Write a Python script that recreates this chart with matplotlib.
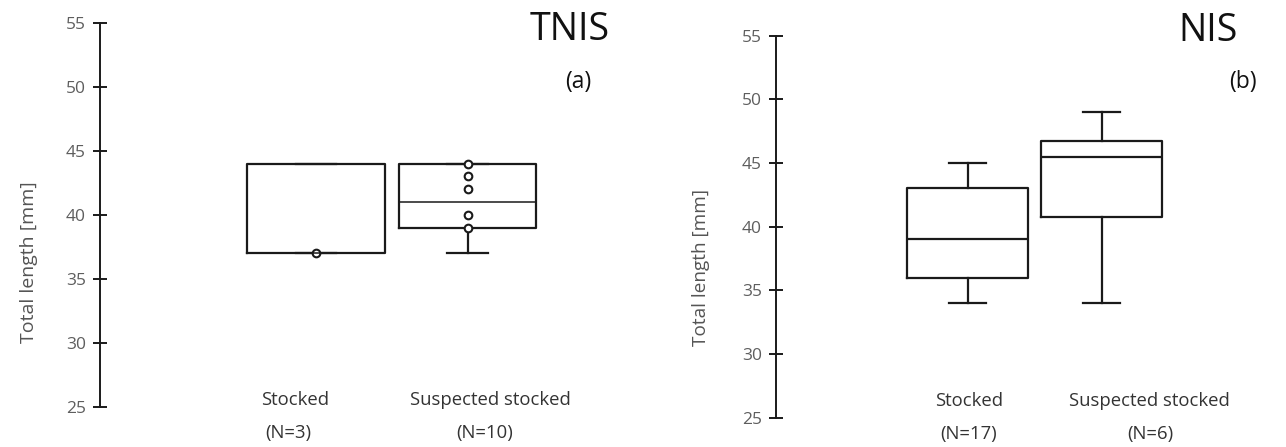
import matplotlib.pyplot as plt

plt.rcParams['font.family'] = ['Open Sans', 'DejaVu Sans']

W, H = 1286, 447

# panel (a) TNIS
groups = ['Stocked', 'Suspected stocked']
counts_a = [3, 10]
q1_a = [37, 39]
med_a = [37, 41]
q3_a = [44, 44]
whislo_a = [37, 37]
whishi_a = [44, 44]
points_a = [[37], [39, 40, 42, 43, 44]]

# panel (b) NIS
counts_b = [17, 6]
q1_b = [36, 40.75]
med_b = [39, 45.5]
q3_b = [43, 46.75]
whislo_b = [34, 34]
whishi_b = [45, 49]
points_b = [[], []]

yticks = [25, 30, 35, 40, 45, 50, 55]


def px(x, y):
    return x / W, 1 - y / H


def stats(q1, med, q3, lo, hi, pts):
    return [dict(q1=a, med=m, q3=b, whislo=l, whishi=h, fliers=f)
            for a, m, b, l, h, f in zip(q1, med, q3, lo, hi, pts)]


def panel(rect, xlim, bxstats, med_lw):
    ax = fig.add_axes(rect)
    ax.bxp(bxstats, positions=[1, 2], widths=0.91, capwidths=0.27,
           boxprops=dict(color='#1a1a1a', lw=1.6),
           whiskerprops=dict(color='#1a1a1a', lw=1.6),
           capprops=dict(color='#1a1a1a', lw=1.6),
           medianprops=dict(color='#1a1a1a', lw=med_lw),
           flierprops=dict(marker='o', ms=5.5, mfc='white', mec='#1a1a1a', mew=1.5))
    ax.set_xlim(*xlim)
    ax.set_ylim(25, 55)
    ax.set_yticks(yticks)
    for s in ['top', 'right', 'bottom']:
        ax.spines[s].set_visible(False)
    ax.spines['left'].set_linewidth(1.4)
    ax.spines['left'].set_color('#1a1a1a')
    ax.tick_params(axis='y', direction='inout', length=10, width=1.4, color='#1a1a1a',
                   labelsize=12.5, labelcolor='#5e5e5e', pad=5)
    ax.set_xticks([])
    return ax


fig = plt.figure(figsize=(W / 100, H / 100), dpi=100)

# left panel: axis at x=100, 55 at y=22.7, 25 at y=406.7, boxes centred at 316 / 467.5
sa = 151.5
ax1 = panel([100 / W, 1 - 406.7 / H, 520 / W, 384 / H],
            (1 - 216 / sa, 1 + 304 / sa),
            stats(q1_a, med_a, q3_a, whislo_a, whishi_a, points_a), 1.1)

# right panel: axis at x=776, 55 at y=35.7, 25 at y=417.5, boxes centred at 967.5 / 1101.5
sb = 134
ax2 = panel([776 / W, 1 - 417.5 / H, 480 / W, 381.8 / H],
            (1 - 191.5 / sb, 1 + 288.5 / sb),
            stats(q1_b, med_b, q3_b, whislo_b, whishi_b, points_b), 1.6)

fig.text(*px(29, 262), 'Total length [mm]', rotation=90, ha='center', va='center',
         fontsize=14, color='#555555')
fig.text(*px(701, 267), 'Total length [mm]', rotation=90, ha='center', va='center',
         fontsize=13.7, color='#555555')

# group labels
lab_a = [(295, 288), (490, 485)]
lab_b = [(969, 969), (1149, 1150)]
for (xs, xn), g, n in zip(lab_a, groups, counts_a):
    fig.text(*px(xs, 400), g, ha='center', va='center', fontsize=13.3, color='#333333')
    fig.text(*px(xn, 433), f'(N={n})', ha='center', va='center', fontsize=13.3, color='#333333')
for (xs, xn), g, n in zip(lab_b, groups, counts_b):
    fig.text(*px(xs, 401), g, ha='center', va='center', fontsize=13.3, color='#333333')
    fig.text(*px(xn, 434), f'(N={n})', ha='center', va='center', fontsize=13.3, color='#333333')

fig.text(*px(570, 30), 'TNIS', ha='center', va='center', fontsize=27, color='#111111')
fig.text(*px(1208, 31), 'NIS', ha='center', va='center', fontsize=27, color='#111111')
fig.text(*px(578, 82), '(a)', ha='center', va='center', fontsize=16.5, color='#111111')
fig.text(*px(1243, 82), '(b)', ha='center', va='center', fontsize=16.5, color='#111111')

fig.savefig('out.png', dpi=100)
